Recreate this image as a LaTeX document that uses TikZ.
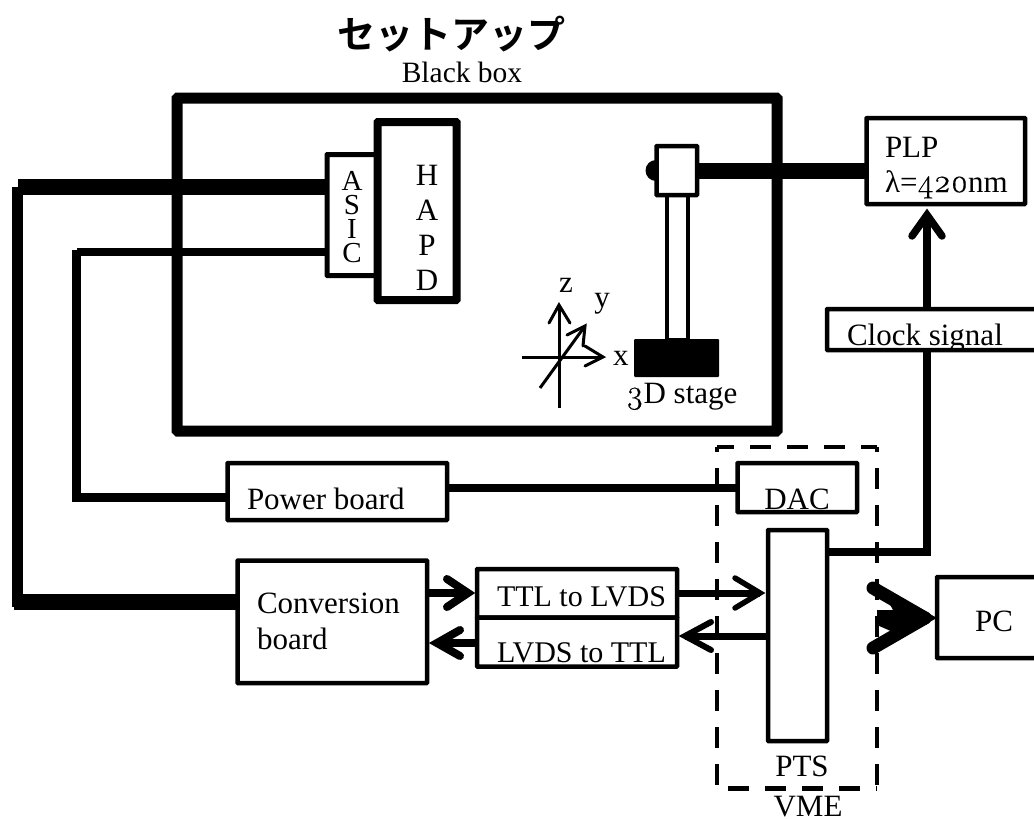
\documentclass[tikz,border=0pt]{standalone}
\usepackage{fontspec}
\setmainfont{Liberation Serif}
\newfontfamily\osf[Numbers=OldStyle,FakeBold=0.4]{Latin Modern Roman}
\newfontfamily\cjk{Noto Sans CJK JP}[BoldFont={Noto Sans CJK JP Bold}]
\tikzset{
  every node/.append style={outer sep=0pt},
  box/.style={draw=black,line width=4.5pt,fill=white,rounded corners=0.5pt,inner sep=0pt,anchor=north west},
  lab/.style={inner sep=0pt,anchor=base west,font=\fontsize{31}{31}\selectfont},
  labc/.style={inner sep=0pt,anchor=base,font=\fontsize{31}{31}\selectfont},
  wire/.style={draw=black,line width=#1},
  barbs/.style={draw=black,line width=#1,line cap=round,line join=miter},
  axis/.style={draw=black,line width=3pt},
  vmedash/.style={draw=black,line width=4.5pt,dash pattern=on 21pt off 16pt,dash phase=#1},
}
\newcommand{\bx}[6][]{\node[box,#1,minimum width=#5-#3,minimum height=#6-#4] (#2) at (#3,#4) {};}
\begin{document}
\begin{tikzpicture}[x=1pt,y=-1pt]
\useasboundingbox (0,0) rectangle (1034,819);
\fill[white] (0,0) rectangle (1034,819);
\coordinate (thickA) at (17.5,187);
\coordinate (thickB) at (17.5,601.5);
\coordinate (thinA) at (76.5,252);
\coordinate (thinB) at (76.5,497);
\coordinate (clockcorner) at (927,552);
% black box
\node[draw=black,line width=11pt,minimum width=600pt,minimum height=333pt,inner sep=0pt,anchor=north west,rounded corners=1pt] (blackbox) at (177,98) {};
\bx[line width=5pt]{asic}{327}{154.5}{377}{275.5}
\bx[line width=8pt]{hapd}{377.5}{122}{456.5}{300}
\draw[wire=16pt] (asic.west |- thickA) -- (thickA);
\draw[wire=11pt] (thickA) -- (17.5,607);
\bx{conv}{237.5}{560.5}{427}{683}
\draw[wire=16pt] (conv.west |- thickB) -- (14,601.5);
\draw[wire=8pt] (asic.west |- thinA) -- (thinA);
\draw[wire=9pt] (76.5,250) -- (76.5,501.5);
\bx{power}{227.5}{463}{447}{520}
\draw[wire=9pt] (power.west |- thinB) -- (72,497);
\bx{dac}{737.5}{463}{857}{512}
\draw[wire=8pt] (power.east |- 0,487.5) -- (dac.west |- 0,487.5);
% stage
\fill[rounded corners=1pt] (634,339) rectangle (719,377);
\node[inner sep=0pt,minimum width=85pt,minimum height=38pt,anchor=north west] (stage) at (634,339) {};
\node[draw=black,line width=4.5pt,fill=white,inner sep=0pt,minimum width=21pt,minimum height=146pt,anchor=north west] (pole) at (667,194) {};
\fill (656,170.5) circle (10.5pt);
\node[box,minimum width=40.5pt,minimum height=49pt] (head) at (656.5,146) {};
\bx{plp}{866.5}{118}{1025}{204}
\draw[wire=16pt] (head.east |- 0,170.5) -- (plp.west |- 0,170.5);
% dashed VME
\node[minimum width=160pt,minimum height=341.5pt,inner sep=0pt,anchor=north west] (vme) at (717,447) {};
\draw[vmedash=16pt] (vme.north west) -- (vme.south west);
\draw[vmedash=16pt] (vme.north east) -- (vme.south east);
\draw[vmedash=4pt] (vme.north west) -- (vme.north east);
\draw[vmedash=26pt] (vme.south west) -- (vme.south east);
\bx{pts}{768}{530}{827}{741}
\draw[wire=8pt] (pts.east |- clockcorner) -- (931,552);
\node[inner sep=0pt,minimum size=0pt] (plptip) at (927,215) {};
\draw[wire=8pt] (927,556) -- (plptip.center);
\draw[barbs=7.5pt] (912,236) -- (plptip.center) -- (942,236);
\node[box,minimum width=220pt,minimum height=41pt] (clock) at (827,309) {};
% TTL / LVDS
\bx{ttl}{477}{569}{677}{617.5}
\bx{lvds}{477}{617.5}{677}{666.5}
\bx{pc}{937}{577}{1050}{658}
% arrows
\draw[wire=8pt] (conv.east |- 0,593) -- ([xshift=-9pt]ttl.west |- 0,593);
\draw[barbs=8pt] (447,579) -- ([xshift=-9pt]ttl.west |- 0,593) -- (447,607);
\draw[wire=8pt] (lvds.west |- 0,643) -- ([xshift=10pt]conv.east |- 0,643);
\draw[barbs=8pt] (460,630) -- ([xshift=10pt]conv.east |- 0,643) -- (460,656);
\draw[wire=7pt] (ttl.east |- 0,593) -- ([xshift=-8pt]pts.west |- 0,593);
\draw[barbs=5.5pt] (735,578) -- ([xshift=-8pt]pts.west |- 0,593) -- (735,608);
\draw[wire=7pt] (pts.west |- 0,636) -- ([xshift=8pt]lvds.east |- 0,636);
\draw[barbs=6pt] (711,622) -- ([xshift=8pt]lvds.east |- 0,636) -- (711,650);
% big PC arrow
\coordinate (pctip) at (935,618);
\fill (880,586) -- (pc.west |- pctip) -- (877,650) -- (893,632) -- (877,625) -- (877,610) -- (893,610) -- cycle;
\draw[line width=13pt,line cap=round] (873,588) -- (925,618);
\draw[line width=13pt,line cap=round] (873,648) -- (925,618);
% axes
\coordinate (o) at (559,357);
\coordinate (zt) at (559,305);
\coordinate (xt) at (603,357);
\coordinate (yt) at (585,326);
\draw[axis] (522,357) -- (xt);
\draw[axis] (559,408) -- (zt);
\draw[axis] (540,388) -- (yt);
\draw[axis,line cap=round,line join=miter] (549,323) -- (zt) -- (570,323);
\draw[axis,line cap=round,line join=miter] (585,346) -- (xt) -- (585,366);
\draw[axis,line cap=round,line join=miter] (567,335) -- (yt) -- (583,346);
% labels
\node[inner sep=0pt,anchor=base,font=\cjk\bfseries\fontsize{38}{38}\selectfont] (title) at (451,48) {セットアップ};
\node[labc] (lblack) at (462,82) {\fontsize{29.5}{30}\selectfont Black box};
\node[lab,align=center,anchor=center,font=\fontsize{29}{24}\selectfont] (lasic) at (352,217) {A\\S\\I\\C};
\node[lab,align=center,anchor=center,font=\fontsize{31}{35.2}\selectfont] (lhapd) at (427,228) {H\\A\\P\\D};
\node[lab] (lplp) at (885,157) {PLP};
\node[lab] (llam) at (885,192) {λ={\osf\fontsize{33}{33}\selectfont 420}nm};
\node[lab] (lclock) at (847,345) {Clock signal};
\node[lab] (lstage) at (626,403) {{\osf\fontsize{33}{33}\selectfont 3}D stage};
\node[lab] (lx) at (613,365) {x};
\node[labc] (lz) at (566,292) {z};
\node[labc] (ly) at (602,307) {y};
\node[labc] (ldac) at (797,509) {DAC};
\node[labc] (lpts) at (802,776) {PTS};
\node[labc] (lvme) at (808,816) {VME};
\node[labc] (lpc) at (994,631) {PC};
\node[lab] (lpower) at (247,509) {Power board};
\node[lab] (lconv) at (257,613) {Conversion};
\node[lab] (lboard) at (257,649) {board};
\node[lab,font=\fontsize{30}{30}\selectfont] (lttl) at (497,606) {TTL to LVDS};
\node[lab,font=\fontsize{30}{30}\selectfont] (llvds) at (497,662) {LVDS to TTL};
\end{tikzpicture}
\end{document}
